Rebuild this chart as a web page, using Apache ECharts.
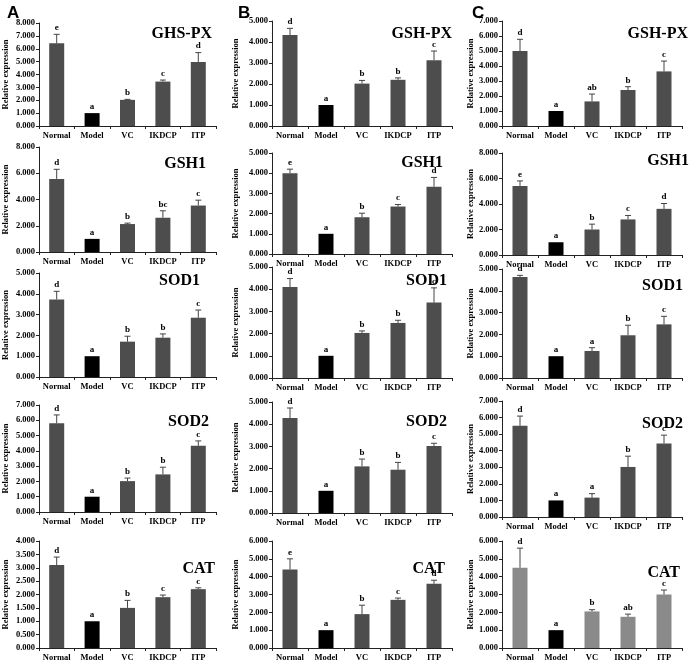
<!DOCTYPE html>
<html><head><meta charset="utf-8">
<script src="https://cdn.jsdelivr.net/npm/echarts@6/dist/echarts.min.js"></script>
<style>html,body{margin:0;padding:0;background:#fff}#c{width:700px;height:666px}</style>
</head><body><div id="c"></div>
<script>
const categories = ['Normal', 'Model', 'VC', 'IKDCP', 'ITP'];
const panelLetters = ['A', 'B', 'C'];
const rowTitlesA = ['GHS-PX', 'GSH1', 'SOD1', 'SOD2', 'CAT'];
const rowTitlesBC = ['GSH-PX', 'GSH1', 'SOD1', 'SOD2', 'CAT'];

// Column A
const A_GSHPX = [6.42, 1.00, 2.03, 3.45, 4.98];
const A_GSHPX_ERR = [0.70, 0, 0.04, 0.12, 0.72];
const A_GSHPX_SIG = ['e', 'a', 'b', 'c', 'd'];
const A_GSH1 = [5.57, 1.00, 2.13, 2.61, 3.54];
const A_GSH1_ERR = [0.73, 0, 0.07, 0.53, 0.41];
const A_GSH1_SIG = ['d', 'a', 'b', 'bc', 'c'];
const A_SOD1 = [3.73, 1.00, 1.70, 1.89, 2.85];
const A_SOD1_ERR = [0.39, 0, 0.26, 0.18, 0.37];
const A_SOD1_SIG = ['d', 'a', 'b', 'b', 'c'];
const A_SOD2 = [5.80, 1.00, 2.02, 2.46, 4.33];
const A_SOD2_ERR = [0.55, 0, 0.20, 0.47, 0.32];
const A_SOD2_SIG = ['d', 'a', 'b', 'b', 'c'];
const A_CAT = [3.10, 1.00, 1.50, 1.90, 2.20];
const A_CAT_ERR = [0.30, 0, 0.28, 0.08, 0.05];
const A_CAT_SIG = ['d', 'a', 'b', 'c', 'c'];

// Column B
const B_GSHPX = [4.33, 1.00, 2.02, 2.20, 3.13];
const B_GSHPX_ERR = [0.32, 0, 0.15, 0.09, 0.44];
const B_GSHPX_SIG = ['d', 'a', 'b', 'b', 'c'];
const B_GSH1 = [4.00, 1.00, 1.82, 2.35, 3.33];
const B_GSH1_ERR = [0.20, 0, 0.20, 0.10, 0.46];
const B_GSH1_SIG = ['e', 'a', 'b', 'c', 'd'];
const B_SOD1 = [4.10, 1.00, 2.03, 2.48, 3.40];
const B_SOD1_ERR = [0.38, 0, 0.09, 0.12, 0.66];
const B_SOD1_SIG = ['d', 'a', 'b', 'b', 'c'];
const B_SOD2 = [4.28, 1.00, 2.10, 1.95, 3.02];
const B_SOD2_ERR = [0.45, 0, 0.33, 0.33, 0.12];
const B_SOD2_SIG = ['d', 'a', 'b', 'b', 'c'];
const B_CAT = [4.40, 1.00, 1.90, 2.70, 3.60];
const B_CAT_ERR = [0.60, 0, 0.50, 0.10, 0.20];
const B_CAT_SIG = ['e', 'a', 'b', 'c', 'd'];

// Column C
const C_GSHPX = [5.00, 1.00, 1.64, 2.40, 3.64];
const C_GSHPX_ERR = [0.78, 0, 0.49, 0.22, 0.69];
const C_GSHPX_SIG = ['d', 'a', 'ab', 'b', 'c'];
const C_GSH1 = [5.42, 1.00, 2.00, 2.79, 3.62];
const C_GSH1_ERR = [0.39, 0, 0.42, 0.31, 0.42];
const C_GSH1_SIG = ['e', 'a', 'b', 'c', 'd'];
const C_SOD1 = [4.63, 1.00, 1.24, 1.96, 2.46];
const C_SOD1_ERR = [0.08, 0, 0.15, 0.46, 0.37];
const C_SOD1_SIG = ['d', 'a', 'a', 'b', 'c'];
const C_SOD2 = [5.50, 1.00, 1.17, 3.02, 4.44];
const C_SOD2_ERR = [0.59, 0, 0.24, 0.65, 0.50];
const C_SOD2_SIG = ['d', 'a', 'a', 'b', 'c'];
const C_CAT = [4.50, 1.00, 2.05, 1.75, 3.00];
const C_CAT_ERR = [1.10, 0, 0.10, 0.15, 0.25];
const C_CAT_SIG = ['d', 'a', 'b', 'ab', 'c'];

// y-axis ranges (max, interval) per column, per row
const A_YMAX = [8, 8, 5, 7, 4];
const A_YSTEP = [1, 2, 1, 1, 0.5];
const B_YMAX = [5, 5, 5, 5, 6];
const B_YSTEP = [1, 1, 1, 1, 1];
const C_YMAX = [7, 8, 5, 7, 6];
const C_YSTEP = [1, 2, 1, 1, 1];

const colVals = [
  [A_GSHPX, A_GSH1, A_SOD1, A_SOD2, A_CAT],
  [B_GSHPX, B_GSH1, B_SOD1, B_SOD2, B_CAT],
  [C_GSHPX, C_GSH1, C_SOD1, C_SOD2, C_CAT]
];
const colErr = [
  [A_GSHPX_ERR, A_GSH1_ERR, A_SOD1_ERR, A_SOD2_ERR, A_CAT_ERR],
  [B_GSHPX_ERR, B_GSH1_ERR, B_SOD1_ERR, B_SOD2_ERR, B_CAT_ERR],
  [C_GSHPX_ERR, C_GSH1_ERR, C_SOD1_ERR, C_SOD2_ERR, C_CAT_ERR]
];
const colSig = [
  [A_GSHPX_SIG, A_GSH1_SIG, A_SOD1_SIG, A_SOD2_SIG, A_CAT_SIG],
  [B_GSHPX_SIG, B_GSH1_SIG, B_SOD1_SIG, B_SOD2_SIG, B_CAT_SIG],
  [C_GSHPX_SIG, C_GSH1_SIG, C_SOD1_SIG, C_SOD2_SIG, C_CAT_SIG]
];
const colYMax = [A_YMAX, B_YMAX, C_YMAX];
const colYStep = [A_YSTEP, B_YSTEP, C_YSTEP];

// layout
const colLeft = [36, 272, 502];
const colWidth = 180;
const colTops = [[23, 147, 273, 405, 541], [21, 153, 267, 402, 541], [21, 153, 269, 401, 541]];
const colBottoms = [[126, 252, 377, 512, 648], [126, 254, 378, 513, 648], [126, 255, 378, 517, 648]];
const colNameGap = [29, 32, 25];
const titleRight = [[212, 206, 200, 209, 215], [452, 443, 447, 447, 445], [688, 689, 683, 683, 680]];
const titleTop = [[26, 156, 273, 414, 561], [26, 155, 273, 414, 561], [26, 153, 278, 416, 565]];

const SERIF = '"Times New Roman", "Liberation Serif", serif';
const BAR = '#4d4d4d';
const BAR_LIGHT = '#8a8a8a';

const grids = [], xAxes = [], yAxes = [], series = [], titles = [];
let k = 0;
for (let c = 0; c < 3; c++) {
  titles.push({ text: panelLetters[c], left: [2, 233, 467][c], top: 0,
    textStyle: { fontFamily: 'Arial, "Liberation Sans", sans-serif', fontWeight: 'bold', fontSize: 17, color: '#000' } });
  for (let r = 0; r < 5; r++) {
    const top = colTops[c][r], bottom = colBottoms[c][r];
    grids.push({ left: colLeft[c], top: top, width: colWidth, height: bottom - top });
    xAxes.push({
      type: 'category', gridIndex: k, data: categories,
      axisLine: { lineStyle: { color: '#222', width: 1 } },
      axisTick: { show: true, length: 3, lineStyle: { color: '#222' } },
      axisLabel: { fontFamily: SERIF, fontWeight: 'bold', fontSize: 8.5, color: '#000', margin: 5, interval: 0 }
    });
    yAxes.push({
      type: 'value', gridIndex: k, min: 0, max: colYMax[c][r], interval: colYStep[c][r],
      name: 'Relative expression', nameLocation: 'middle', nameRotate: 90, nameGap: colNameGap[c],
      nameTextStyle: { fontFamily: SERIF, fontWeight: 'bold', fontSize: 8.5, color: '#000' },
      splitLine: { show: false },
      axisLine: { show: true, lineStyle: { color: '#222', width: 1 } },
      axisTick: { show: true, length: 3, lineStyle: { color: '#222' } },
      axisLabel: { fontFamily: SERIF, fontWeight: 'bold', fontSize: 8.5, color: '#000', margin: 4,
        formatter: v => v.toFixed(3) }
    });
    const vals = colVals[c][r], errs = colErr[c][r], sigs = colSig[c][r];
    const base = (c === 2 && r === 4) ? BAR_LIGHT : BAR;
    series.push({
      type: 'bar', xAxisIndex: k, yAxisIndex: k, barWidth: 15,
      data: vals.map((v, i) => ({ value: v, itemStyle: { color: i === 1 ? '#000' : base } })),
      silent: true, animation: false
    });
    series.push({
      type: 'custom', xAxisIndex: k, yAxisIndex: k, z: 5, animation: false, silent: true,
      data: vals.map((v, i) => [i, v, errs[i]]),
      renderItem: (params, api) => {
        const i = api.value(0), v = api.value(1), e = api.value(2);
        const p0 = api.coord([i, v]);
        const p1 = api.coord([i, v + e]);
        const children = [];
        if (e > 0) {
          children.push({ type: 'line', shape: { x1: p0[0], y1: p0[1], x2: p1[0], y2: p1[1] },
            style: { stroke: '#444', lineWidth: 1 } });
          children.push({ type: 'line', shape: { x1: p1[0] - 3, y1: p1[1], x2: p1[0] + 3, y2: p1[1] },
            style: { stroke: '#444', lineWidth: 1 } });
        }
        children.push({ type: 'text', x: p1[0], y: p1[1] - 2,
          style: { text: sigs[params.dataIndex], textAlign: 'center', textVerticalAlign: 'bottom',
            font: 'bold 9px ' + SERIF, fill: '#000' } });
        return { type: 'group', children: children };
      }
    });
    const tt = c === 0 ? rowTitlesA[r] : rowTitlesBC[r];
    titles.push({ text: tt, right: 700 - titleRight[c][r], top: titleTop[c][r],
      textStyle: { fontFamily: SERIF, fontWeight: 'bold', fontSize: 16, color: '#000' }, padding: 0 });
    k++;
  }
}

const chart = echarts.init(document.getElementById('c'), null, { renderer: 'canvas' });
chart.setOption({ animation: false, title: titles, grid: grids, xAxis: xAxes, yAxis: yAxes, series: series });
</script>
</body></html>
